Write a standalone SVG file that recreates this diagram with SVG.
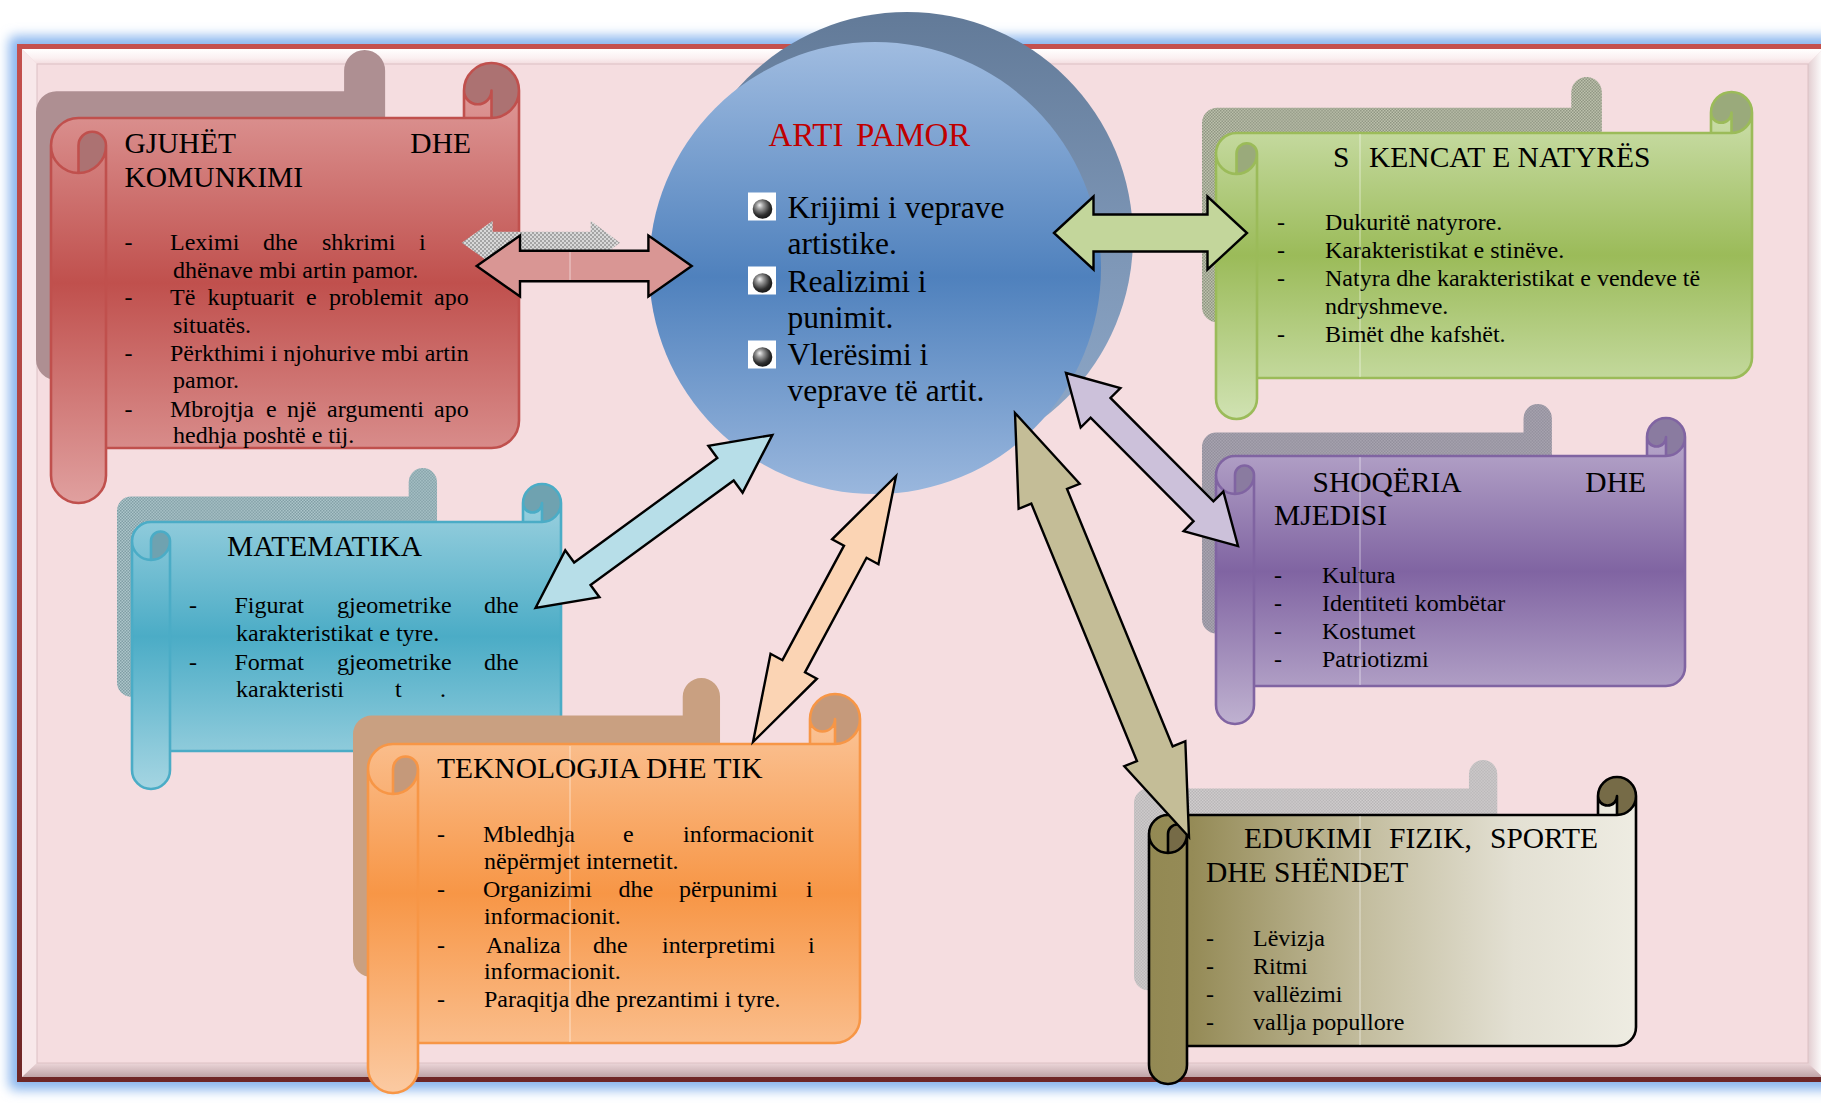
<svg xmlns="http://www.w3.org/2000/svg" xmlns:xlink="http://www.w3.org/1999/xlink" width="1821" height="1103" viewBox="0 0 1821 1103">
<style>
.t{font-family:"Liberation Serif","Times New Roman",serif;fill:#000}
.h{font-size:29.5px}
.i{font-size:24px}
.c{font-size:31.5px}
.ar{stroke:#000;stroke-width:2.4;stroke-linejoin:miter}
.ol{fill:none;stroke-width:2.6;stroke-linejoin:round}
.seam{stroke:#fff;stroke-width:1;opacity:0.55}
</style>
<defs>
<filter id="blur" x="-5%" y="-5%" width="110%" height="110%"><feGaussianBlur stdDeviation="6"/></filter>
<linearGradient id="gOuter" x1="0" y1="0" x2="0" y2="1"><stop offset="0" stop-color="#C4504D"/><stop offset="0.5" stop-color="#A84240"/><stop offset="1" stop-color="#6E2626"/></linearGradient>
<linearGradient id="gBevTop" x1="0" y1="0" x2="0" y2="1"><stop offset="0" stop-color="#FFFFFF"/><stop offset="0.6" stop-color="#FBF0F1"/><stop offset="1" stop-color="#F3DCDF"/></linearGradient>
<linearGradient id="gBevBot" x1="0" y1="0" x2="0" y2="1"><stop offset="0" stop-color="#ECD6D9"/><stop offset="1" stop-color="#BFA4A7"/></linearGradient>
<linearGradient id="gBevR" x1="0" y1="0" x2="1" y2="0"><stop offset="0" stop-color="#E2CDD0"/><stop offset="1" stop-color="#FFFFFF"/></linearGradient>
<linearGradient id="gCirc" x1="0" y1="0" x2="0" y2="1"><stop offset="0" stop-color="#A0BCE0"/><stop offset="0.52" stop-color="#4F81BD"/><stop offset="1" stop-color="#9AB7DD"/></linearGradient>
<linearGradient id="gCircSh" x1="0" y1="0" x2="0" y2="1"><stop offset="0" stop-color="#627A98"/><stop offset="0.5" stop-color="#7C95B5"/><stop offset="1" stop-color="#90AACA"/></linearGradient>
<radialGradient id="gSphere" cx="0.42" cy="0.38" r="0.62" fx="0.35" fy="0.3"><stop offset="0" stop-color="#F2F2F2"/><stop offset="0.3" stop-color="#9A9A9A"/><stop offset="0.75" stop-color="#303030"/><stop offset="1" stop-color="#161616"/></radialGradient>
<linearGradient id="gRed" x1="0" y1="0" x2="0" y2="1"><stop offset="0" stop-color="#E2A3A2"/><stop offset="0.5" stop-color="#C0504D"/><stop offset="1" stop-color="#E0A09F"/></linearGradient>
<linearGradient id="gGreen" x1="0" y1="0" x2="0" y2="1"><stop offset="0" stop-color="#D2E3B5"/><stop offset="0.5" stop-color="#9BBB59"/><stop offset="1" stop-color="#D0E2B2"/></linearGradient>
<linearGradient id="gPurple" x1="0" y1="0" x2="0" y2="1"><stop offset="0" stop-color="#BFB1D0"/><stop offset="0.5" stop-color="#8064A2"/><stop offset="1" stop-color="#BFB1D0"/></linearGradient>
<linearGradient id="gTeal" x1="0" y1="0" x2="0" y2="1"><stop offset="0" stop-color="#A5D5E2"/><stop offset="0.5" stop-color="#4BACC6"/><stop offset="1" stop-color="#A5D5E2"/></linearGradient>
<linearGradient id="gOrange" x1="0" y1="0" x2="0" y2="1"><stop offset="0" stop-color="#FBCAA2"/><stop offset="0.5" stop-color="#F79646"/><stop offset="1" stop-color="#FBCAA2"/></linearGradient>
<linearGradient id="gOlive" x1="0" y1="0" x2="1" y2="0"><stop offset="0" stop-color="#938953"/><stop offset="0.09" stop-color="#958B57"/><stop offset="0.45" stop-color="#C4BEA0"/><stop offset="0.75" stop-color="#E3E0D3"/><stop offset="1" stop-color="#EEECE2"/></linearGradient>
<pattern id="chkG" width="4" height="4" patternUnits="userSpaceOnUse"><rect width="4" height="4" fill="#BEC3AE"/><rect width="2" height="2" fill="#8E9481"/><rect x="2" y="2" width="2" height="2" fill="#8E9481"/></pattern>
<pattern id="chkP" width="4" height="4" patternUnits="userSpaceOnUse"><rect width="4" height="4" fill="#B3AFBB"/><rect width="2" height="2" fill="#878491"/><rect x="2" y="2" width="2" height="2" fill="#878491"/></pattern>
<pattern id="chkT" width="4" height="4" patternUnits="userSpaceOnUse"><rect width="4" height="4" fill="#AEC7CC"/><rect width="2" height="2" fill="#7F9CA3"/><rect x="2" y="2" width="2" height="2" fill="#7F9CA3"/></pattern>
<pattern id="chkO" width="4" height="4" patternUnits="userSpaceOnUse"><rect width="4" height="4" fill="#D8D4D5"/><rect width="2" height="2" fill="#B0AEAF"/><rect x="2" y="2" width="2" height="2" fill="#B0AEAF"/></pattern>
<pattern id="chkA" width="4" height="4" patternUnits="userSpaceOnUse"><rect width="4" height="4" fill="#D8D8D8"/><rect width="2" height="2" fill="#A4A4A4"/><rect x="2" y="2" width="2" height="2" fill="#A4A4A4"/></pattern>
<g id="bullet"><rect width="28" height="28" fill="#FFFFFF"/><circle cx="14.5" cy="16.5" r="9.8" fill="url(#gSphere)"/></g>
<path id="silR" d="M519,90.5 A27.5,27.5 0 0 0 464,90.5 L464,118 L78.5,118 A27.5,27.5 0 0 0 51,145.5 L51,475.5 A27.5,27.5 0 0 0 106,475.5 L106,448 L491.5,448 A27.5,27.5 0 0 0 519,420.5 Z"/>
<path id="silG" d="M1752,112.5 A20.5,20.5 0 0 0 1711,112.5 L1711,133 L1236.5,133 A20.5,20.5 0 0 0 1216,153.5 L1216,398.5 A20.5,20.5 0 0 0 1257,398.5 L1257,378 L1731.5,378 A20.5,20.5 0 0 0 1752,357.5 Z"/>
<path id="silP" d="M1685,437 A19,19 0 0 0 1647,437 L1647,456 L1235,456 A19,19 0 0 0 1216,475 L1216,705 A19,19 0 0 0 1254,705 L1254,686 L1666,686 A19,19 0 0 0 1685,667 Z"/>
<path id="silE" d="M1636,796 A19,19 0 0 0 1598,796 L1598,815 L1168,815 A19,19 0 0 0 1149,834 L1149,1065 A19,19 0 0 0 1187,1065 L1187,1046 L1617,1046 A19,19 0 0 0 1636,1027 Z"/>
<path id="silT" d="M561,503 A19,19 0 0 0 523,503 L523,522 L151,522 A19,19 0 0 0 132,541 L132,770 A19,19 0 0 0 170,770 L170,751 L542,751 A19,19 0 0 0 561,732 Z"/>
<path id="silO" d="M860,719 A25,25 0 0 0 810,719 L810,744 L393,744 A25,25 0 0 0 368,769 L368,1068 A25,25 0 0 0 418,1068 L418,1043 L835,1043 A25,25 0 0 0 860,1018 Z"/>
</defs>

<rect width="1821" height="1103" fill="#FFFFFF"/>

<g id="frame">
<rect x="9" y="36" width="1850" height="1054" rx="6" fill="#8AB6EE" filter="url(#blur)"/>
<rect x="17" y="44" width="1811" height="1038" fill="url(#gOuter)"/>
<rect x="22" y="49" width="1801" height="1028" fill="#EFD6D9"/>
<polygon points="22,49 1823,49 1808,64 37,64" fill="url(#gBevTop)"/>
<polygon points="22,49 37,64 37,1063 22,1077" fill="#F8E8EA"/>
<polygon points="22,1077 37,1063 1808,1063 1823,1077" fill="url(#gBevBot)"/>
<polygon points="1823,49 1808,64 1808,1063 1823,1077" fill="url(#gBevR)"/>
<rect x="37" y="64" width="1771" height="999" fill="#F5DDE0" stroke="#DCC0C4" stroke-width="1"/>
</g>

<g id="arti-pamor">
<circle cx="907" cy="238" r="226" fill="url(#gCircSh)"/>
<circle cx="875" cy="268" r="226" fill="url(#gCirc)"/>
<text class="t" font-size="33" y="146" style="fill:#C00000"><tspan x="768.5">ARTI</tspan><tspan x="856">PAMOR</tspan></text>
<use href="#bullet" x="748" y="192.5"/>
<use href="#bullet" x="748" y="266.5"/>
<use href="#bullet" x="748" y="340.5"/>
<text class="t c" x="787.5" y="218">Krijimi i veprave</text>
<text class="t c" x="787.5" y="254">artistike.</text>
<text class="t c" x="787.5" y="292">Realizimi i</text>
<text class="t c" x="787.5" y="328">punimit.</text>
<text class="t c" x="787.5" y="365">Vlerësimi i</text>
<text class="t c" x="787.5" y="401">veprave të artit.</text>
</g>

<g id="gjuhet">
<use href="#silR" fill="#AE8F92" transform="translate(36 50) scale(0.746 0.75) translate(-51 -63)"/>
<use href="#silR" fill="url(#gRed)"/>
<path d="M78.5,173 A27.5,27.5 0 0 0 106,145.5 A13.75,13.75 0 0 0 78.5,145.5 Z M491.5,118 A27.5,27.5 0 1 0 464,90.5 A13.75,13.75 0 0 0 491.5,90.5 Z" fill="#AC7272"/>
<path class="ol" stroke="#C0504D" d="M51,145.5 A27.5,27.5 0 0 1 78.5,118 L464,118 L464,90.5 A27.5,27.5 0 0 1 519,90.5 L519,420.5 A27.5,27.5 0 0 1 491.5,448 L106,448 L106,475.5 A27.5,27.5 0 0 1 51,475.5 Z M464,118 L491.5,118 A27.5,27.5 0 0 0 519,90.5 M491.5,118 L491.5,90.5 A13.75,13.75 0 0 1 464,90.5 M78.5,173 L78.5,145.5 A13.75,13.75 0 0 1 106,145.5 A27.5,27.5 0 0 1 51,145.5 M106,145.5 L106,448"/>
<text class="t h" x="124.5" y="153">GJUHËT</text>
<text class="t h" x="471" y="153" text-anchor="end">DHE</text>
<text class="t h" x="124.5" y="187">KOMUNKIMI</text>
<text class="t i" x="124.5" y="250">-</text>
<text class="t i" x="124.5" y="305">-</text>
<text class="t i" x="124.5" y="361">-</text>
<text class="t i" x="124.5" y="417">-</text>
<text class="t i" y="250"><tspan x="170">Leximi</tspan><tspan x="263">dhe</tspan><tspan x="322">shkrimi</tspan><tspan x="419">i</tspan></text>
<text class="t i" x="173" y="278">dhënave mbi artin pamor.</text>
<text class="t i" y="305"><tspan x="170">Të</tspan><tspan x="207.6">kuptuarit</tspan><tspan x="306">e</tspan><tspan x="329">problemit</tspan><tspan x="434">apo</tspan></text>
<text class="t i" x="173" y="333">situatës.</text>
<text class="t i" x="170" y="361">Përkthimi i njohurive mbi artin</text>
<text class="t i" x="173" y="388">pamor.</text>
<text class="t i" y="417"><tspan x="170">Mbrojtja</tspan><tspan x="266">e</tspan><tspan x="287">një</tspan><tspan x="327">argumenti</tspan><tspan x="434">apo</tspan></text>
<text class="t i" x="173" y="443">hedhja poshtë e tij.</text>
</g>

<g id="shkencat">
<use href="#silG" fill="url(#chkG)" transform="translate(1202 77) scale(0.746 0.75) translate(-1216 -92)"/>
<use href="#silG" fill="url(#gGreen)"/>
<path d="M1236.5,174 A20.5,20.5 0 0 0 1257,153.5 A10.25,10.25 0 0 0 1236.5,153.5 Z M1731.5,133 A20.5,20.5 0 1 0 1711,112.5 A10.25,10.25 0 0 0 1731.5,112.5 Z" fill="#9AAA7B"/>
<path class="ol" stroke="#9BBB59" d="M1216,153.5 A20.5,20.5 0 0 1 1236.5,133 L1711,133 L1711,112.5 A20.5,20.5 0 0 1 1752,112.5 L1752,357.5 A20.5,20.5 0 0 1 1731.5,378 L1257,378 L1257,398.5 A20.5,20.5 0 0 1 1216,398.5 Z M1711,133 L1731.5,133 A20.5,20.5 0 0 0 1752,112.5 M1731.5,133 L1731.5,112.5 A10.25,10.25 0 0 1 1711,112.5 M1236.5,174 L1236.5,153.5 A10.25,10.25 0 0 1 1257,153.5 A20.5,20.5 0 0 1 1216,153.5 M1257,153.5 L1257,378"/>
<text class="t h" x="1333" y="167">S</text>
<text class="t h" x="1369" y="167">KENCAT E NATYRËS</text>
<text class="t i" x="1277" y="230">-</text>
<text class="t i" x="1277" y="258">-</text>
<text class="t i" x="1277" y="286">-</text>
<text class="t i" x="1277" y="342">-</text>
<text class="t i" x="1325" y="230">Dukuritë natyrore.</text>
<text class="t i" x="1325" y="258">Karakteristikat e stinëve.</text>
<text class="t i" x="1325" y="286">Natyra dhe karakteristikat e vendeve të</text>
<text class="t i" x="1325" y="314">ndryshmeve.</text>
<text class="t i" x="1325" y="342">Bimët dhe kafshët.</text>
</g>

<g id="shoqeria">
<use href="#silP" fill="url(#chkP)" transform="translate(1202 404) scale(0.746 0.75) translate(-1216 -418)"/>
<use href="#silP" fill="url(#gPurple)"/>
<path d="M1235,494 A19,19 0 0 0 1254,475 A9.5,9.5 0 0 0 1235,475 Z M1666,456 A19,19 0 1 0 1647,437 A9.5,9.5 0 0 0 1666,437 Z" fill="#8A7BA0"/>
<path class="ol" stroke="#8064A2" d="M1216,475 A19,19 0 0 1 1235,456 L1647,456 L1647,437 A19,19 0 0 1 1685,437 L1685,667 A19,19 0 0 1 1666,686 L1254,686 L1254,705 A19,19 0 0 1 1216,705 Z M1647,456 L1666,456 A19,19 0 0 0 1685,437 M1666,456 L1666,437 A9.5,9.5 0 0 1 1647,437 M1235,494 L1235,475 A9.5,9.5 0 0 1 1254,475 A19,19 0 0 1 1216,475 M1254,475 L1254,686"/>
<text class="t h" x="1312.5" y="492">SHOQËRIA</text>
<text class="t h" x="1646" y="492" text-anchor="end">DHE</text>
<text class="t h" x="1274" y="525">MJEDISI</text>
<text class="t i" x="1274" y="582.5">-</text>
<text class="t i" x="1274" y="610.5">-</text>
<text class="t i" x="1274" y="639">-</text>
<text class="t i" x="1274" y="667">-</text>
<text class="t i" x="1322" y="582.5">Kultura</text>
<text class="t i" x="1322" y="610.5">Identiteti kombëtar</text>
<text class="t i" x="1322" y="639">Kostumet</text>
<text class="t i" x="1322" y="667">Patriotizmi</text>
</g>

<g id="edukimi">
<use href="#silE" fill="url(#chkO)" transform="translate(1134 760) scale(0.746 0.75) translate(-1149 -777)"/>
<use href="#silE" fill="url(#gOlive)"/>
<path d="M1168,853 A19,19 0 0 0 1187,834 A9.5,9.5 0 0 0 1168,834 Z M1617,815 A19,19 0 1 0 1598,796 A9.5,9.5 0 0 0 1617,796 Z" fill="#766B47"/>
<path class="ol" stroke="#000000" stroke-width="2" d="M1149,834 A19,19 0 0 1 1168,815 L1598,815 L1598,796 A19,19 0 0 1 1636,796 L1636,1027 A19,19 0 0 1 1617,1046 L1187,1046 L1187,1065 A19,19 0 0 1 1149,1065 Z M1598,815 L1617,815 A19,19 0 0 0 1636,796 M1617,815 L1617,796 A9.5,9.5 0 0 1 1598,796 M1168,853 L1168,834 A9.5,9.5 0 0 1 1187,834 A19,19 0 0 1 1149,834 M1187,834 L1187,1046"/>
<text class="t h" y="848"><tspan x="1244">EDUKIMI</tspan><tspan x="1389">FIZIK,</tspan><tspan x="1490">SPORTE</tspan></text>
<text class="t h" x="1206" y="882">DHE SHËNDET</text>
<text class="t i" x="1206" y="946">-</text>
<text class="t i" x="1206" y="973.5">-</text>
<text class="t i" x="1206" y="1001.5">-</text>
<text class="t i" x="1206" y="1029.5">-</text>
<text class="t i" x="1253" y="946">Lëvizja</text>
<text class="t i" x="1253" y="973.5">Ritmi</text>
<text class="t i" x="1253" y="1001.5">vallëzimi</text>
<text class="t i" x="1253" y="1029.5">vallja popullore</text>
</g>

<g id="matematika">
<use href="#silT" fill="url(#chkT)" transform="translate(117 468) scale(0.746 0.75) translate(-132 -484)"/>
<use href="#silT" fill="url(#gTeal)"/>
<path d="M151,560 A19,19 0 0 0 170,541 A9.5,9.5 0 0 0 151,541 Z M542,522 A19,19 0 1 0 523,503 A9.5,9.5 0 0 0 542,503 Z" fill="#6FA2B0"/>
<path class="ol" stroke="#4BACC6" d="M132,541 A19,19 0 0 1 151,522 L523,522 L523,503 A19,19 0 0 1 561,503 L561,732 A19,19 0 0 1 542,751 L170,751 L170,770 A19,19 0 0 1 132,770 Z M523,522 L542,522 A19,19 0 0 0 561,503 M542,522 L542,503 A9.5,9.5 0 0 1 523,503 M151,560 L151,541 A9.5,9.5 0 0 1 170,541 A19,19 0 0 1 132,541 M170,541 L170,751"/>
<text class="t h" x="227" y="556">MATEMATIKA</text>
<text class="t i" x="189" y="613">-</text>
<text class="t i" x="189" y="670">-</text>
<text class="t i" y="613"><tspan x="234.5">Figurat</tspan><tspan x="337">gjeometrike</tspan><tspan x="484">dhe</tspan></text>
<text class="t i" x="236" y="641">karakteristikat e tyre.</text>
<text class="t i" y="670"><tspan x="234.5">Format</tspan><tspan x="337">gjeometrike</tspan><tspan x="484">dhe</tspan></text>
<text class="t i" y="697"><tspan x="236">karakteristi</tspan><tspan x="395">t</tspan><tspan x="440">.</tspan></text>
</g>

<g id="teknologjia">
<use href="#silO" fill="#C9A081" transform="translate(353 678) scale(0.746 0.75) translate(-368 -694)"/>
<use href="#silO" fill="url(#gOrange)"/>
<path d="M393,794 A25,25 0 0 0 418,769 A12.5,12.5 0 0 0 393,769 Z M835,744 A25,25 0 1 0 810,719 A12.5,12.5 0 0 0 835,719 Z" fill="#C5997A"/>
<path class="ol" stroke="#F79646" d="M368,769 A25,25 0 0 1 393,744 L810,744 L810,719 A25,25 0 0 1 860,719 L860,1018 A25,25 0 0 1 835,1043 L418,1043 L418,1068 A25,25 0 0 1 368,1068 Z M810,744 L835,744 A25,25 0 0 0 860,719 M835,744 L835,719 A12.5,12.5 0 0 1 810,719 M393,794 L393,769 A12.5,12.5 0 0 1 418,769 A25,25 0 0 1 368,769 M418,769 L418,1043"/>
<text class="t h" x="437" y="778">TEKNOLOGJIA DHE TIK</text>
<text class="t i" x="437" y="842">-</text>
<text class="t i" x="437" y="897">-</text>
<text class="t i" x="437" y="953">-</text>
<text class="t i" x="437" y="1007">-</text>
<text class="t i" y="842"><tspan x="483">Mbledhja</tspan><tspan x="623">e</tspan><tspan x="683">informacionit</tspan></text>
<text class="t i" x="484" y="869">nëpërmjet internetit.</text>
<text class="t i" y="897"><tspan x="483">Organizimi</tspan><tspan x="618.5">dhe</tspan><tspan x="679">përpunimi</tspan><tspan x="806">i</tspan></text>
<text class="t i" x="484" y="924">informacionit.</text>
<text class="t i" y="953"><tspan x="486">Analiza</tspan><tspan x="593">dhe</tspan><tspan x="662">interpretimi</tspan><tspan x="808">i</tspan></text>
<text class="t i" x="484" y="979">informacionit.</text>
<text class="t i" x="484" y="1007">Paraqitja dhe prezantimi i tyre.</text>
</g>

<g id="connectors">
<polygon fill="url(#chkA)" points="461.7,242.7 492.7,220.7 492.7,231.7 590.7,231.7 590.7,220.7 620,242.7 590.7,264.7 590.7,253.7 492.7,253.7 492.7,264.7"/>
<polygon class="ar" fill="#D99694" points="476.7,266 520,235.5 520,250.8 648.4,250.8 648.4,235.5 691.7,266 648.4,296.5 648.4,281.2 520,281.2 520,296.5"/>
<polygon class="ar" fill="#C3D69B" points="1054,233 1093.5,196.5 1093.5,214.5 1207.5,214.5 1207.5,196.5 1247,233 1207.5,269.5 1207.5,251.5 1093.5,251.5 1093.5,269.5"/>
<polygon class="ar" fill="#B7DEE8" transform="translate(535.5 608) rotate(-36.15)" points="0,0 58,-29 58,-13.9 235.3,-13.9 235.3,-29 293.3,0 235.3,29 235.3,13.9 58,13.9 58,29"/>
<polygon class="ar" fill="#FBD4B4" transform="translate(753 742) rotate(-61.74)" points="0,0 86,-26.3 86,-12.8 216,-12.8 216,-26.3 302,0 216,26.3 216,12.8 86,12.8 86,26.3"/>
<polygon class="ar" fill="#C4BD97" transform="translate(1015 413) rotate(67.69)" points="0,0 90,-33 90,-19.3 368.3,-19.3 368.3,-33 458.3,0 368.3,33 368.3,19.3 90,19.3 90,33"/>
<polygon class="ar" fill="#CCC1DA" transform="translate(1066 373) rotate(45.17)" points="0,0 49,-28 49,-14 195,-14 195,-28 244,0 195,28 195,14 49,14 49,28"/>
</g>

<g id="seams">
<line class="seam" x1="570" y1="252" x2="570" y2="280"/>
<line class="seam" x1="570" y1="746" x2="570" y2="1042"/>
<line class="seam" x1="1360" y1="134" x2="1360" y2="377"/>
<line class="seam" x1="1360" y1="457" x2="1360" y2="685"/>
<line class="seam" x1="1360" y1="816" x2="1360" y2="1045"/>
</g>
</svg>
